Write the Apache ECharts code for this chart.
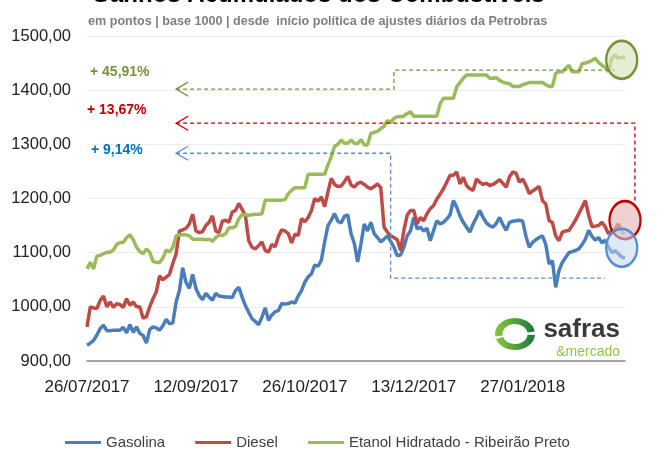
<!DOCTYPE html>
<html>
<head>
<meta charset="utf-8">
<script src="https://cdn.jsdelivr.net/npm/echarts@6/dist/echarts.min.js"></script>
<style>
	html, body { margin: 0; padding: 0; background: #fff; }
	#chartContainer { width: 665px; height: 452px; }
</style>
</head>
<body>
<div id="chartContainer"></div>
<script>
// valores em pontos, base 1000, um por pregão
var tickLabels = ['26/07/2017', '12/09/2017', '26/10/2017', '13/12/2017', '27/01/2018'];
var tickEvery = 33;

var gasolina = [
	929, 933, 938, 948, 960, 966, 956, 956, 957, 957,
	957, 962, 952, 967, 953, 963, 951, 947, 933, 958,
	963, 961, 957, 965, 977, 969, 970, 1009, 1030, 1072,
	1045, 1034, 1060, 1034, 1021, 1013, 1025, 1018, 1012, 1025,
	1020, 1019, 1018, 1018, 1017, 1030, 1036, 1018, 1002, 990,
	978, 973, 967, 981, 998, 975, 985, 991, 993, 1006,
	1005, 1006, 1009, 1007, 1020, 1030, 1046, 1055, 1061, 1077,
	1075, 1086, 1120, 1150, 1160, 1172, 1158, 1155, 1167, 1170,
	1135, 1117, 1083, 1116, 1153, 1140, 1156, 1135, 1128, 1120,
	1125, 1131, 1121, 1110, 1094, 1096, 1110, 1131, 1140, 1165,
	1144, 1147, 1140, 1145, 1122, 1141, 1159, 1153, 1156, 1162,
	1170, 1196, 1184, 1168, 1156, 1147, 1138, 1153, 1165, 1178,
	1165, 1155, 1150, 1147, 1154, 1165, 1152, 1141, 1156, 1158,
	1159, 1160, 1158, 1130, 1110, 1119, 1124, 1128, 1131, 1115,
	1079, 1085, 1036, 1067, 1082, 1091, 1100, 1102, 1104, 1107,
	1115, 1125, 1141, 1130, 1123, 1128, 1118, 1123, 1110, 1100,
	1104, 1098, 1092, 1090
];

var diesel = [
	963, 1000, 998, 997, 1012, 1020, 1000, 1009, 999, 1006,
	1004, 999, 1015, 1003, 1009, 1000, 1000, 979, 982, 1000,
	1015, 1028, 1057, 1050, 1055, 1060, 1080, 1098, 1140, 1142,
	1145, 1153, 1171, 1140, 1137, 1139, 1150, 1156, 1168, 1140,
	1137, 1158, 1160, 1156, 1175, 1178, 1191, 1180, 1168, 1122,
	1110, 1107, 1113, 1120, 1104, 1101, 1115, 1111, 1130, 1142,
	1140, 1135, 1118, 1134, 1132, 1163, 1157, 1165, 1178, 1200,
	1195, 1203, 1185, 1212, 1237, 1226, 1222, 1223, 1231, 1241,
	1225, 1221, 1228, 1230, 1226, 1221, 1218, 1222, 1227, 1220,
	1147, 1138, 1131, 1128, 1124, 1104, 1141, 1169, 1178, 1178,
	1153, 1165, 1159, 1172, 1181, 1187, 1199, 1208, 1218, 1230,
	1243, 1243, 1249, 1227, 1239, 1224, 1218, 1215, 1236, 1230,
	1226, 1228, 1224, 1226, 1230, 1235, 1228, 1221, 1240, 1249,
	1247, 1230, 1236, 1224, 1209, 1214, 1218, 1222, 1196, 1190,
	1159, 1156, 1131, 1122, 1138, 1140, 1141, 1150, 1160, 1172,
	1184, 1196, 1169, 1148, 1149, 1150, 1156, 1148, 1135, 1140,
	1144, 1153, 1138, 1135
];

var etanol = [
	1070, 1082, 1070, 1094, 1095, 1098, 1101, 1101, 1105, 1115,
	1119, 1119, 1128, 1133, 1124, 1110, 1102, 1098, 1107, 1101,
	1084, 1082, 1082, 1090, 1105, 1101, 1110, 1131, 1133, 1133,
	1133, 1131, 1125, 1125, 1125, 1125, 1124, 1125, 1121, 1128,
	1132, 1132, 1135, 1146, 1146, 1148, 1163, 1170, 1170, 1169,
	1170, 1171, 1171, 1172, 1197, 1197, 1197, 1197, 1197, 1197,
	1198, 1209, 1215, 1220, 1220, 1220, 1220, 1245, 1245, 1245,
	1245, 1245, 1245, 1262, 1277, 1296, 1300, 1308, 1302, 1302,
	1308, 1302, 1301, 1309, 1299, 1299, 1320, 1322, 1324, 1329,
	1333, 1344, 1340, 1348, 1351, 1351, 1352, 1357, 1360, 1352,
	1352, 1352, 1352, 1352, 1352, 1352, 1352, 1375, 1385, 1385,
	1385, 1385, 1406, 1414, 1422, 1428, 1428, 1428, 1428, 1428,
	1428, 1428, 1422, 1422, 1423, 1418, 1415, 1413, 1412, 1407,
	1407, 1407, 1410, 1412, 1414, 1414, 1414, 1414, 1414, 1410,
	1407, 1407, 1431, 1434, 1434, 1440, 1446, 1434, 1434, 1434,
	1449, 1450, 1452, 1455, 1459, 1451, 1446, 1442, 1434, 1459,
	1465, 1459, 1461, 1461
];

var seriesNames = ['Gasolina', 'Diesel', 'Etanol Hidratado - Ribeirão Preto'];
var seriesColors = ['#4a7ebb', '#be4b48', '#9bbb59'];

// anotações (ganho acumulado), em coordenadas do gráfico [índice, pontos]
var gainLabels = ['+ 45,91%', '+ 13,67%', '+ 9,14%'];
var gainColors = ['#77933c', '#c00000', '#0070c0'];
var guideColors = ['#77933c', '#c00000', '#558ed5'];
var guidePaths = [
	[[27, 1402], [93, 1402], [93, 1437], [160, 1437]],
	[[27.4, 1339], [166.3, 1339], [166.3, 1192]],
	[[27.3, 1283.5], [91.8, 1283.5], [91.8, 1053], [156.7, 1053]]
];
var ringCenters = [[162.3, 1456], [163.2, 1160], [162.3, 1109]];
var ringFills = ['rgba(216,228,188,0.65)', 'rgba(230,184,183,0.65)', 'rgba(198,217,241,0.55)'];
var ringStrokes = ['#76923c', '#c00000', '#558ed5'];

var categories = [];
for (var i = 0; i < gasolina.length; i++) {
	categories.push(i);
}

var option = null;
var chart = null;

function initOption() {
	var series = [gasolina, diesel, etanol].map(function(values, idx) {
		return {
			name: seriesNames[idx],
			type: 'line',
			data: values,
			showSymbol: false,
			symbol: 'none',
			color: seriesColors[idx],
			lineStyle: { width: 3.5, color: seriesColors[idx] },
			emphasis: { disabled: true },
			animation: false
		};
	});

	option = {
		animation: false,
		textStyle: { fontFamily: 'Liberation Sans' },
		grid: { left: 87, right: 40, top: 36, bottom: 91, containLabel: false },
		legend: {
			data: seriesNames,
			left: 60,
			top: 430,
			icon: 'rect',
			itemWidth: 36,
			itemHeight: 3,
			itemGap: 30,
			textStyle: { fontSize: 15, color: '#404040', fontFamily: 'Liberation Sans' }
		},
		xAxis: {
			type: 'category',
			data: categories,
			boundaryGap: false,
			axisLine: { lineStyle: { color: '#888', width: 1.5 } },
			axisTick: { show: false },
			axisLabel: {
				interval: function(index) { return index % tickEvery === 0; },
				formatter: function(value, index) { return tickLabels[index / tickEvery] || ''; },
				margin: 18,
				fontSize: 17,
				color: '#222',
				fontFamily: 'Liberation Sans'
			},
			splitLine: { show: false }
		},
		yAxis: {
			type: 'value',
			min: 900,
			max: 1500,
			interval: 100,
			axisLine: { show: false },
			axisTick: { show: false },
			axisLabel: {
				margin: 16,
				fontSize: 16.5,
				color: '#222',
				fontFamily: 'Liberation Sans',
				formatter: function(v) { return v.toFixed(2).replace('.', ','); }
			},
			splitLine: { lineStyle: { color: '#ececec', width: 1 } }
		},
		series: series
	};
}

function initAnnotations() {
	var graphics = [];

	graphics.push({
		type: 'text', x: 318, y: -5,
		style: { text: 'Ganhos Acumulados dos Combustíveis', font: 'bold 24px "Liberation Sans"', fill: '#000', align: 'center', verticalAlign: 'middle' }
	});
	graphics.push({
		type: 'text', x: 88, y: 22,
		style: { text: 'em pontos | base 1000 | desde  início política de ajustes diários da Petrobras', font: 'bold 12.6px "Liberation Sans"', fill: '#7f7f7f', verticalAlign: 'middle' }
	});

	var labelPos = [[90, 72], [87, 110], [91, 150]];
	gainLabels.forEach(function(txt, idx) {
		graphics.push({
			type: 'text', x: labelPos[idx][0], y: labelPos[idx][1], z: 20,
			style: { text: txt, font: 'bold 14px "Liberation Sans"', fill: gainColors[idx], verticalAlign: 'middle' }
		});
	});

	guidePaths.forEach(function(path, idx) {
		var pts = path.map(function(p) { return chart.convertToPixel({ gridIndex: 0 }, p); });
		graphics.push({
			type: 'polyline', z: 15, silent: true,
			shape: { points: pts },
			style: { stroke: guideColors[idx], lineWidth: 1.3, lineDash: [4, 3], fill: null }
		});
		var tip = pts[0];
		graphics.push({
			type: 'polyline', z: 15, silent: true,
			shape: { points: [[tip[0] + 12, tip[1] - 7], tip, [tip[0] + 12, tip[1] + 7]] },
			style: { stroke: guideColors[idx], lineWidth: 1.3, fill: null }
		});
	});

	ringCenters.forEach(function(c, idx) {
		var p = chart.convertToPixel({ gridIndex: 0 }, c);
		graphics.push({
			type: 'circle', z: 18, silent: true,
			x: p[0], y: p[1], scaleX: 15.5 / 19,
			shape: { cx: 0, cy: 0, r: 19 },
			style: { fill: ringFills[idx], stroke: ringStrokes[idx], lineWidth: 2.8 }
		});
	});

	// logo safras & mercado
	graphics.push({
		type: 'group', x: 515, y: 334, z: 10,
		children: [
			{ type: 'arc', scaleX: 1.25, shape: { cx: 0, cy: 0, r: 13, startAngle: Math.PI * 0.95, endAngle: Math.PI * 1.95, clockwise: true },
				style: { stroke: new echarts.graphic.LinearGradient(0, 0, 1, 0, [{ offset: 0, color: '#8dc63f' }, { offset: 1, color: '#1a7a3a' }]), lineWidth: 6, fill: null } },
			{ type: 'arc', scaleX: 1.25, shape: { cx: 0, cy: 0, r: 13, startAngle: Math.PI * 0.02, endAngle: Math.PI * 0.9, clockwise: true },
				style: { stroke: new echarts.graphic.LinearGradient(1, 0, 0, 0, [{ offset: 0, color: '#1a7a3a' }, { offset: 1, color: '#8dc63f' }]), lineWidth: 6, fill: null } }
		]
	});
	graphics.push({
		type: 'text', x: 620, y: 343, z: 10,
		style: { text: 'safras', font: 'bold 26px "Liberation Sans"', fill: '#3a3a3a', align: 'right', verticalAlign: 'bottom' }
	});
	graphics.push({
		type: 'text', x: 620, y: 352, z: 10,
		style: { text: '&mercado', font: '14px "Liberation Sans"', fill: '#8cc63f', align: 'right', verticalAlign: 'middle' }
	});

	chart.setOption({ graphic: graphics });
}

initOption();
chart = echarts.init(document.getElementById('chartContainer'), null, { renderer: 'canvas' });
chart.setOption(option);
initAnnotations();
</script>
</body>
</html>
